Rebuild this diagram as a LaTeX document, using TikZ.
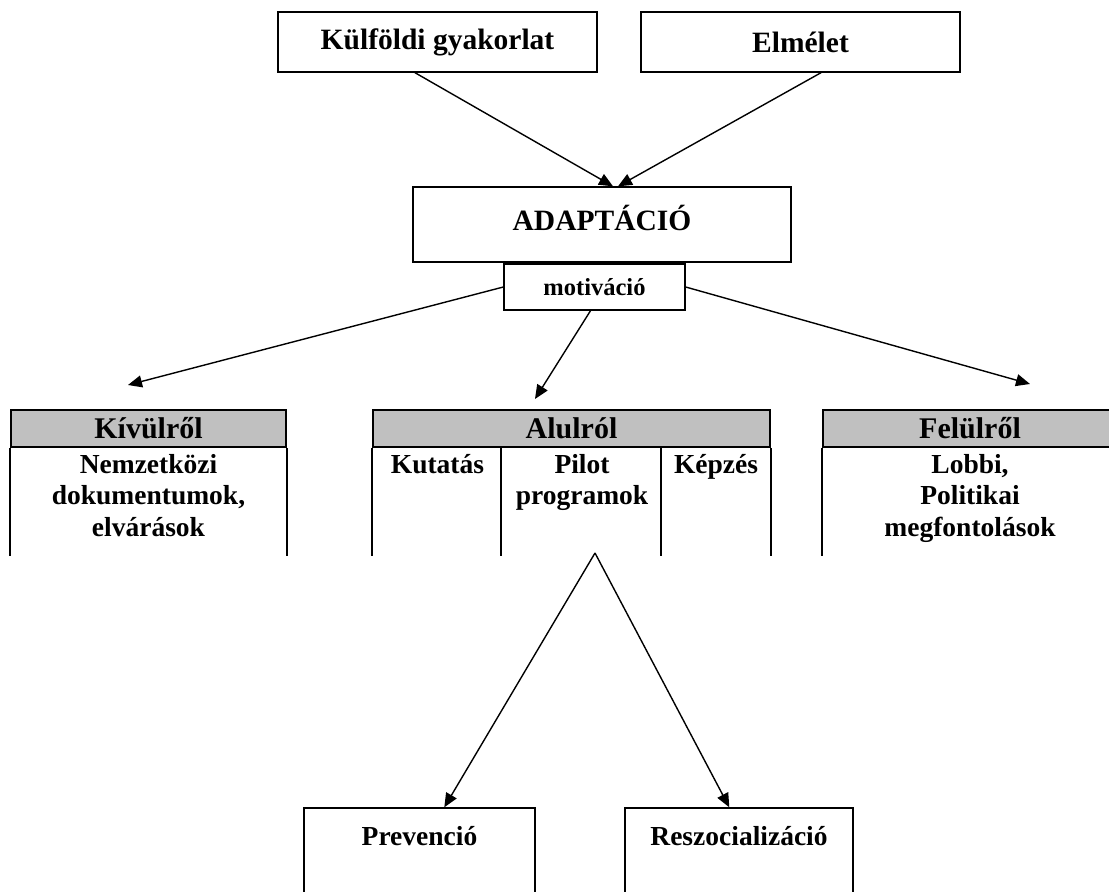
\documentclass[tikz,border=0pt]{standalone}
\usepackage{fontspec}
\setmainfont{Liberation Serif}
\usetikzlibrary{arrows.meta,calc}
\definecolor{hgray}{RGB}{192,192,192}
\newcommand\dgtext{\fontsize{27.5pt}{31.5pt}\selectfont\bfseries}
\newcommand\dghead{\fontsize{30pt}{34pt}\selectfont\bfseries}
\newcommand\dgbig{\fontsize{29.5pt}{34pt}\selectfont\bfseries}
\newcommand\dgsmall{\fontsize{24.5pt}{28pt}\selectfont\bfseries}
\begin{document}
\begin{tikzpicture}[x=1pt,y=-1pt,
  box/.style={draw,line width=1.4pt,inner sep=0pt,font=\dgtext},
  conn/.style={line width=1.4pt},
  arr/.style={conn,-{Triangle[length=14pt,width=12pt]}},
  hdr/.style={draw,line width=2.4pt,fill=hgray,inner sep=0pt,font=\dghead,minimum height=37pt},
  tline/.style={line width=2.4pt},
  txt/.style={font=\dgtext,align=center,inner sep=0pt,anchor=north}
]
\useasboundingbox (0,0) rectangle (1109,892);
\clip (0,0) rectangle (1109,892);

% top boxes
\node[box,font=\dgbig,minimum width=319pt,minimum height=60pt] (kulf) at (437.5,42) {Külföldi gyakorlat};
\node[box,font=\dgbig,minimum width=319pt,minimum height=60pt] (elm) at (800.5,42) {Elmélet};

% adaptation
\node[box,minimum width=378pt,minimum height=75pt] (adapt) at (602,224.5) {};
\node[font=\dgbig,inner sep=0pt] (adtxt) at (602,218) {ADAPTÁCIÓ};
\node[box,font=\dgsmall,minimum width=181pt,minimum height=46pt] (motiv) at (594.5,287) {motiváció};

\draw[arr] ($(kulf.south)+(-22.5,0)$) -- ($(adapt.north)+(11,0)$);
\draw[arr] ($(elm.south)+(20.5,0)$) -- ($(adapt.north)+(16,0)$);

% arrow ends
\coordinate (ltip) at (128,385);
\coordinate (ctip) at (535,399);
\coordinate (rtip) at (1030,384);
\draw[arr] (motiv.west) -- (ltip);
\draw[arr] ($(motiv.south)+(-4,0)$) -- (ctip);
\draw[arr] (motiv.east) -- (rtip);

% table: Kivulrol
\node[hdr,minimum width=275pt] (kh) at (148.5,428.5) {Kívülről};
\draw[tline] (kh.south west) -- ++(0,108);
\draw[tline] (kh.south east) -- ++(0,108);
\node[txt] (kb) at (148.5,454) {Nemzetközi\\dokumentumok,\\elvárások};

% table: Alulrol
\node[hdr,minimum width=397pt] (ah) at (571.5,428.5) {Alulról};
\draw[tline] (ah.south west) -- ++(0,108);
\draw[tline] ($(ah.south west)+(129,0)$) -- ++(0,108);
\draw[tline] ($(ah.south west)+(289,0)$) -- ++(0,108);
\draw[tline] (ah.south east) -- ++(0,108);
\node[txt] (kut) at (437.5,454) {Kutatás};
\node[txt] (pil) at (582,454) {Pilot\\programok};
\node[txt] (kep) at (716,454) {Képzés};

% table: Felulrol
\node[hdr,minimum width=294pt] (fh) at (970,428.5) {Felülről};
\draw[tline] (fh.south west) -- ++(0,108);
\draw[tline] (fh.south east) -- ++(0,108);
\node[txt] (fb) at (970,454) {Lobbi,\\Politikai\\megfontolások};

% bottom
\coordinate (apex) at (595,553);
\node[box,minimum width=231pt,minimum height=96pt] (prev) at (419.5,856) {};
\node[txt] (prevt) at (419.5,826) {Prevenció};
\node[box,minimum width=228pt,minimum height=96pt] (resz) at (739,856) {};
\node[txt] (reszt) at (739,826) {Reszocializáció};
\draw[arr] (apex) -- ($(prev.north west)+(141,0)$);
\draw[arr] (apex) -- ($(resz.north west)+(105,0)$);
\end{tikzpicture}
\end{document}
